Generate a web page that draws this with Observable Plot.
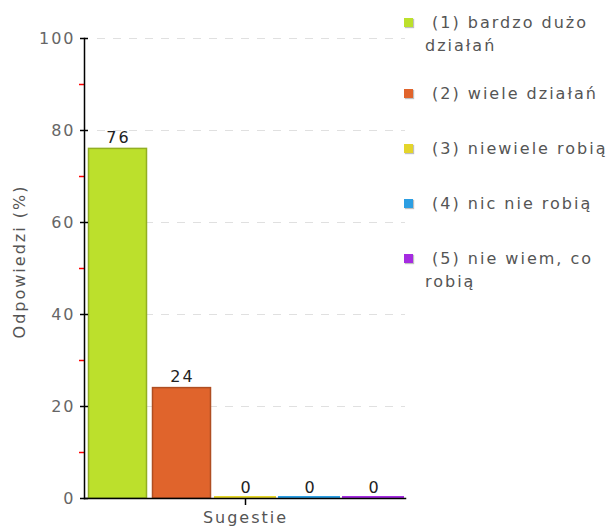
<!DOCTYPE html>
<html>
<head>
<meta charset="utf-8">
<script src="https://cdn.jsdelivr.net/npm/d3@7"></script>
<script src="https://cdn.jsdelivr.net/npm/@observablehq/plot@0.6"></script>
<style>
  body { margin: 0; background: #fff; }
  #wrap { position: relative; width: 612px; height: 526px; font-family: "DejaVu Sans", sans-serif; }
  #legend { position: absolute; left: 404px; top: 0; width: 208px; color: #555; font-size: 16px; letter-spacing: 2px; }
  .item { position: absolute; left: 0; display: flex; align-items: flex-start; line-height: 23px; white-space: nowrap; }
  .sw { width: 9px; height: 9px; margin-top: 7px; box-shadow: 1px 1px 1px rgba(0,0,0,0.25); flex: none; }
  .lbl { margin-left: 12px; }
</style>
</head>
<body>
<div id="wrap"></div>
<script>
const categories = ["(1) bardzo dużo działań", "(2) wiele działań", "(3) niewiele robią", "(4) nic nie robią", "(5) nie wiem, co robią"];
const legendLines = [["(1) bardzo dużo", "działań"], ["(2) wiele działań"], ["(3) niewiele robią"], ["(4) nic nie robią"], ["(5) nie wiem, co", "robią"]];
const values = [76, 24, 0, 0, 0];
const colors = ["#bce02c", "#e0642c", "#e4d52b", "#2c9ee2", "#a52be1"];
const yTicks = [0, 20, 40, 60, 80, 100];
const minorTicks = [10, 30, 50, 70, 90];
const xLabel = "Sugestie";
const yLabel = "Odpowiedzi (%)";

const data = categories.map((c, i) => ({cat: c, value: values[i], color: colors[i]}));

const chart = Plot.plot({
  width: 612,
  height: 526,
  marginLeft: 84,
  marginRight: 207,
  marginTop: 38,
  marginBottom: 28,
  style: {fontFamily: "DejaVu Sans", letterSpacing: "2px", background: "#fff", overflow: "visible"},
  x: {domain: categories, padding: 0, axis: null},
  y: {domain: [0, 100], axis: null},
  color: {domain: categories, range: colors},
  marks: [
    Plot.ruleY(yTicks.filter(d => d > 0), {stroke: "#e0e0e0", strokeDasharray: "8,8", insetLeft: 13}),
    Plot.barY(data, {x: "cat", y: "value", fill: "cat", stroke: {value: d => d3.color(d.color).darker(0.7).formatHex(), scale: null}, strokeWidth: 1.5, insetLeft: 3.5, insetRight: 2.5}),
    Plot.tickY(data.filter(d => d.value === 0), {x: "cat", y: "value", stroke: "cat", strokeWidth: 3, dy: -1, insetLeft: 1, insetRight: 1}),
    Plot.text(data, {x: "cat", y: "value", text: d => String(d.value), dy: -6, dx: 1, fontSize: 16, fill: "#222", lineAnchor: "bottom"}),
    Plot.axisY({ticks: yTicks, tickSize: 4, text: null, label: null, stroke: "#000", strokeWidth: 1.5}),
    Plot.axisY({ticks: yTicks, tickSize: -4, text: null, label: null, stroke: "#000", strokeWidth: 1.5}),
    Plot.axisY({ticks: minorTicks, tickSize: 5, text: null, label: null, stroke: "#f00", strokeWidth: 1.5}),
    Plot.axisY({ticks: yTicks, tickSize: 0, tickPadding: 9, fontSize: 16, fill: "#666", label: null}),
    Plot.frame({anchor: "left", stroke: "#000", strokeWidth: 1.5}),
    Plot.frame({anchor: "bottom", stroke: "#000", strokeWidth: 1.5}),
    Plot.axisX({ticks: [categories[2]], tickFormat: () => xLabel, tickSize: 7, tickPadding: 6, fontSize: 16, fill: "#555", stroke: "#000", strokeWidth: 1.5, label: null}),
    Plot.text([yLabel], {frameAnchor: "left", rotate: -90, dx: -65, dy: -7, textAnchor: "middle", fontSize: 16, fill: "#555"})
  ]
});

const wrap = document.getElementById("wrap");
wrap.appendChild(chart);

const legend = document.createElement("div");
legend.id = "legend";
const tops = [11, 82, 137, 192, 247];
legendLines.forEach((lines, i) => {
  const item = document.createElement("div");
  item.className = "item";
  item.style.top = tops[i] + "px";
  const sw = document.createElement("div");
  sw.className = "sw";
  sw.style.background = colors[i];
  const lbl = document.createElement("div");
  lbl.className = "lbl";
  lbl.innerHTML = lines.map((l, j) => (j === 0 ? "\u00a0" : "") + l).join("<br>");
  item.appendChild(sw);
  item.appendChild(lbl);
  legend.appendChild(item);
});
wrap.appendChild(legend);
</script>
</body>
</html>
